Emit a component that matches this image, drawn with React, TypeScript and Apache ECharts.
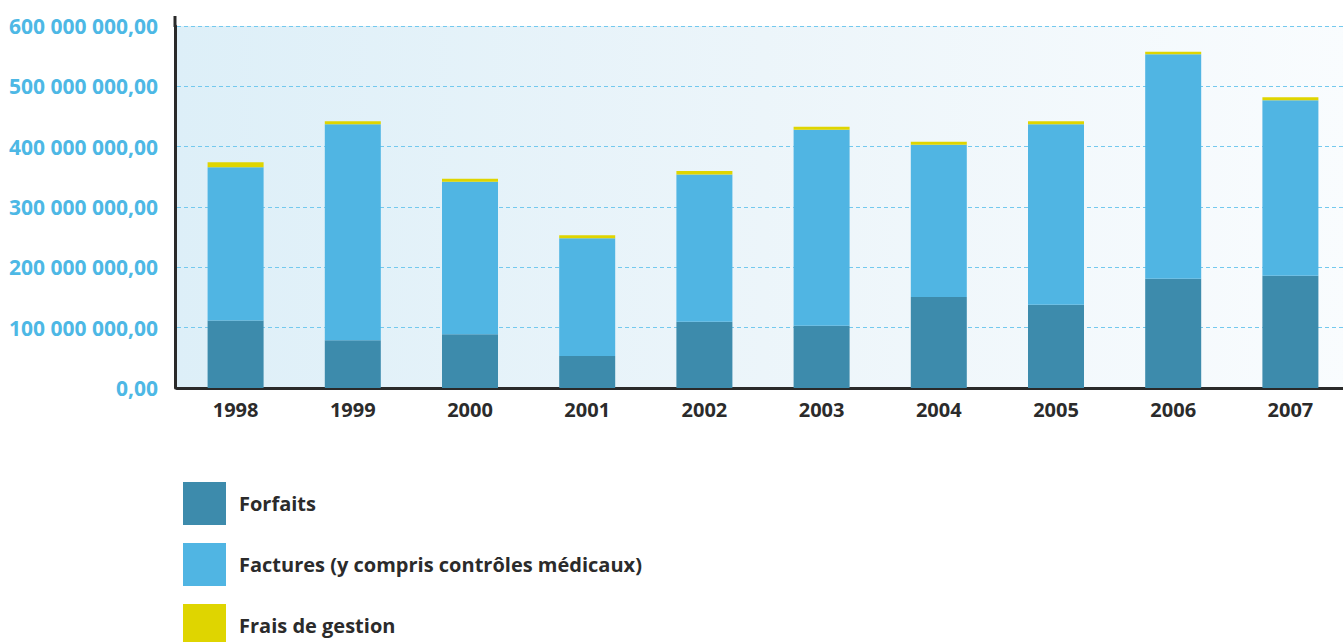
import React, { useEffect, useRef } from "react";
import * as echarts from "echarts";

const years = ["1998", "1999", "2000", "2001", "2002", "2003", "2004", "2005", "2006", "2007"];
const forfaits = [112e6, 79e6, 89e6, 53e6, 110e6, 103e6, 151e6, 138e6, 181e6, 186e6];
const factures = [254e6, 358e6, 253e6, 195e6, 244e6, 325e6, 252e6, 299e6, 372e6, 291e6];
const fraisGestion = [8e6, 5e6, 5e6, 5e6, 5.5e6, 5e6, 5e6, 5e6, 4.5e6, 5e6];
const yTicks = { min: 0, max: 600e6, interval: 100e6 };

const fmt = (v: number) =>
  String(Math.round(v)).replace(/\B(?=(\d{3})+(?!\d))/g, " ") + ",00";

export default function App() {
  const ref = useRef<HTMLDivElement>(null);
  useEffect(() => {
    if (!ref.current) return;
    const chart = echarts.init(ref.current, null, { renderer: "svg" });
    const font = "'Open Sans', 'Noto Sans', sans-serif";
    chart.setOption({
      animation: false,
      grid: {
        left: 177,
        right: 11,
        top: 26,
        bottom: 254,
        show: true,
        borderWidth: 0,
        backgroundColor: new echarts.graphic.LinearGradient(0, 0, 1, 0, [
          { offset: 0, color: "#ddeff8" },
          { offset: 0.5, color: "#ecf5fa" },
          { offset: 1, color: "#f9fcfe" },
        ]),
      },
      legend: {
        orient: "vertical",
        left: 183,
        top: 482,
        height: 300,
        padding: 0,
        itemWidth: 43,
        itemHeight: 43,
        itemGap: 18,
        icon: "rect",
        selectedMode: false,
        textStyle: {
          fontFamily: font,
          fontWeight: "bold",
          fontSize: 20,
          color: "#2b2b2b",
          padding: [3, 0, 0, 8],
        },
        data: ["Forfaits", "Factures (y compris contrôles médicaux)", "Frais de gestion"],
      },
      xAxis: {
        type: "category",
        data: years,
        axisLine: { show: true, lineStyle: { color: "#2a2a2a", width: 3 } },
        axisTick: { show: false },
        axisLabel: {
          fontFamily: font,
          fontWeight: "bold",
          fontSize: 20,
          color: "#2b2b2b",
          margin: 11,
        },
      },
      yAxis: {
        type: "value",
        min: yTicks.min,
        max: yTicks.max,
        interval: yTicks.interval,
        offset: 2,
        axisLine: { show: true, lineStyle: { color: "#2a2a2a", width: 3 } },
        axisTick: { show: false },
        axisLabel: {
          formatter: (v: number) => fmt(v),
          fontFamily: font,
          fontWeight: "bold",
          fontSize: 21,
          color: "#4db8e5",
          margin: 17,
        },
        splitLine: {
          show: true,
          lineStyle: { color: "#74c9ee", type: [4, 3], width: 1.2 },
        },
      },
      graphic: [
        {
          type: "line",
          shape: { x1: 175, y1: 16, x2: 175, y2: 27 },
          style: { stroke: "#2a2a2a", lineWidth: 3 },
          z: 10,
        },
      ],
      series: [
        {
          name: "Forfaits",
          type: "bar",
          stack: "total",
          barWidth: 56,
          data: forfaits,
          itemStyle: { color: "#3d8bac" },
        },
        {
          name: "Factures (y compris contrôles médicaux)",
          type: "bar",
          stack: "total",
          barWidth: 56,
          data: factures,
          itemStyle: { color: "#50b5e3" },
        },
        {
          name: "Frais de gestion",
          type: "bar",
          stack: "total",
          barWidth: 56,
          data: fraisGestion,
          itemStyle: { color: "#dfd500" },
        },
      ],
    });
    return () => chart.dispose();
  }, []);
  return (
    <div
      style={{
        position: "fixed",
        left: 0,
        top: 0,
        width: 1343,
        height: 642,
        overflow: "hidden",
        background: "#fff",
      }}
    >
      <div ref={ref} style={{ width: 1360, height: 642 }} />
    </div>
  );
}
